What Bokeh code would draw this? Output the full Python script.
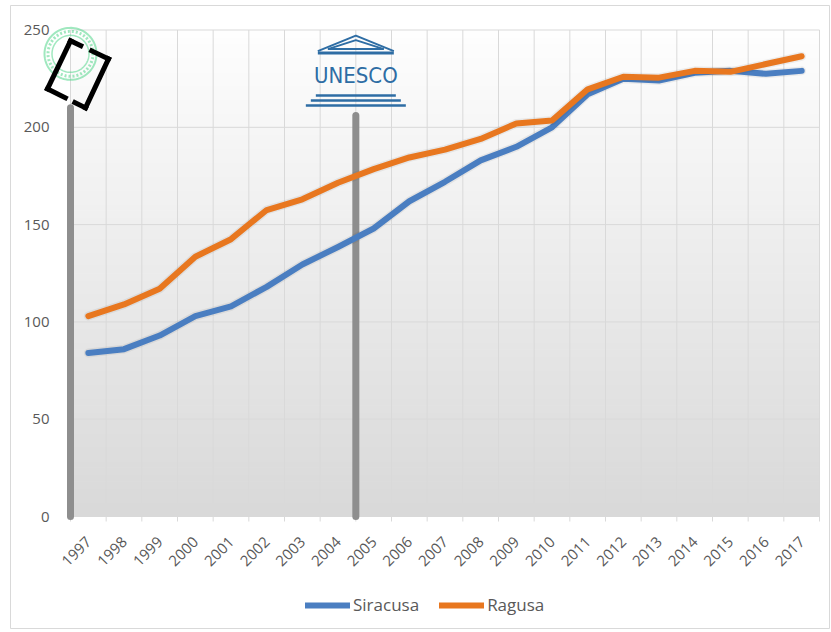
import numpy as np
from bokeh.plotting import figure
from bokeh.models import Legend, LegendItem, Range1d
from bokeh.core.properties import value
from bokeh.embed import file_html
from bokeh.resources import INLINE

# ---------------- data ----------------
years = list(range(1997, 2018))
siracusa = [84, 86, 93, 103, 108, 118, 129.5, 138.5, 148, 162, 172, 183, 190, 200,
            217, 225, 224, 228, 229, 227.5, 229]
ragusa = [103, 109, 117, 133.5, 142.5, 157.5, 163, 171.5, 178.5, 184.5, 188.5, 194, 202, 203.5,
          219.5, 226, 225.5, 229, 228.5, 232.5, 236.5]
series_names = ["Siracusa", "Ragusa"]
y_ticks = [0, 50, 100, 150, 200, 250]
year_labels = [str(y) for y in years]
y_labels = [str(v) for v in y_ticks]
event_x = [1996.5, 2004.5]     # marker bars: start of series / UNESCO listing
event_top = [210, 206]
logo_text = "UNESCO"

# ---------------- style ----------------
FONT = "Open Sans"
TXT = "#595959"
GRID = "#d9d9d9"
BLUE = "#4A7EC1"
ORANGE = "#E8771F"
BAR = "#8E8E8E"
LOGO = "#2E6DA4"
STAMP = "#52D68A"

W, H = 831, 632
# pixel geometry of the plot area inside the picture
PA_LEFT, PA_RIGHT, PA_TOP, PA_BOTTOM = 70, 819, 29.5, 516
XPX = (PA_RIGHT - PA_LEFT) / len(years)
YPX = (PA_BOTTOM - PA_TOP) / (y_ticks[-1] - y_ticks[0])
x0 = years[0] - 0.5
x_start = x0 - PA_LEFT / XPX
x_end = x0 + (W - PA_LEFT) / XPX
y_start = y_ticks[0] - (H - PA_BOTTOM) / YPX
y_end = y_ticks[-1] + PA_TOP / YPX

def ox(px):
    return px / XPX
def oy(px):
    return px / YPX
def X(px):
    return x_start + px / XPX
def Y(py):
    return y_end - py / YPX

p = figure(width=W, height=H, output_backend="svg", toolbar_location=None,
           x_range=Range1d(x_start, x_end), y_range=Range1d(y_start, y_end),
           x_axis_type=None, y_axis_type=None, min_border=0)
p.outline_line_color = None
p.background_fill_color = "white"
p.border_fill_color = "white"
p.grid.visible = False

xl, xr = years[0] - 0.5, years[-1] + 0.5
bounds = [y - 0.5 for y in years] + [xr]

# chart border
p.quad(left=X(10), right=X(829), top=Y(5), bottom=Y(628), fill_color=None,
       line_color=GRID, line_width=1)

# plot-area gradient (white top -> light grey bottom)
n = 70
edges = np.linspace(y_ticks[0], y_ticks[-1], n + 1)
shades = np.linspace(217, 254, n)
cols = ["#%02x%02x%02x" % (int(s), int(s), int(s)) for s in shades]
p.quad(left=xl, right=xr, bottom=edges[:-1], top=edges[1:],
       fill_color=cols, line_color=cols, line_width=1)

# grid lines
p.segment(x0=bounds, y0=[y_ticks[0]] * len(bounds), x1=bounds, y1=[y_ticks[-1]] * len(bounds),
          line_color=GRID, line_width=1)
p.segment(x0=[xl] * len(y_ticks), y0=y_ticks, x1=[xr] * len(y_ticks), y1=y_ticks,
          line_color=GRID, line_width=1)
# tick marks below the category axis
p.segment(x0=bounds, y0=[y_ticks[0]] * len(bounds), x1=bounds,
          y1=[y_ticks[0] - oy(5)] * len(bounds), line_color=GRID, line_width=1)

# tick labels
p.text(x=[xl - ox(21)] * len(y_ticks), y=y_ticks, text=y_labels,
       text_font=value(FONT), text_font_size="15px", text_color=TXT,
       text_align="right", text_baseline="middle")
p.text(x=[yv + ox(0.5) for yv in years], y=[y_ticks[0] - oy(23)] * len(years), text=year_labels,
       angle=np.pi / 4, text_font=value(FONT), text_font_size="15px", text_color=TXT,
       text_align="right", text_baseline="middle")

# marker bars (below the lines)
p.segment(x0=event_x, y0=[y_ticks[0]] * len(event_x), x1=event_x, y1=event_top,
          line_color=BAR, line_width=7, line_cap="round")

# series lines with a faint shadow
renderers = []
for vals, col in ((siracusa, BLUE), (ragusa, ORANGE)):
    p.line(years, vals, line_color="black", line_alpha=0.06, line_width=9,
           line_join="round", line_cap="round")
    r = p.line(years, vals, line_color=col, line_width=6, line_join="round", line_cap="round")
    renderers.append(r)

legend = Legend(items=[LegendItem(label=n_, renderers=[r]) for n_, r in zip(series_names, renderers)],
                orientation="horizontal", location=(305, 16), glyph_width=45, glyph_height=16,
                label_standoff=3, spacing=20, padding=0, margin=0,
                border_line_color=None, background_fill_alpha=0,
                label_text_font=FONT, label_text_font_size="17px", label_text_color=TXT)
p.add_layout(legend)

# ---- UNESCO logo above the second marker ----
ax_, ay_ = event_x[1], event_top[1]
def pt(dx, dy):
    return ax_ + ox(dx), ay_ + oy(dy)
outer = [pt(-38, 64.5), pt(0, 80), pt(38, 64.5)]
inner = [pt(-28, 66.5), pt(0, 75.5), pt(28, 66.5), pt(-28, 66.5)]
p.multi_line(xs=[[q[0] for q in outer], [q[0] for q in inner]],
             ys=[[q[1] for q in outer], [q[1] for q in inner]],
             line_color=LOGO, line_width=2)
steps = [(38, 62.5, 3), (40, 20, 2.5), (45, 15, 2.5), (50, 10, 2.5)]
for half, dy, lw in steps:
    a, b = pt(-half, dy), pt(half, dy)
    p.line([a[0], b[0]], [a[1], b[1]], line_color=LOGO, line_width=lw)
tx, ty = pt(0, 40)
p.text(x=[tx], y=[ty], text=[logo_text], text_font=value("DejaVu Sans Condensed"),
       text_font_size="22px", text_align="center", text_baseline="middle", text_color=LOGO)

# ---- stamp logo above the first marker ----
bx, by = event_x[0], event_top[0]
t = np.linspace(0, 2 * np.pi, 90)
for rad, lw, dash in ((26, 2, "solid"), (22.5, 3, "2 2"), (18.5, 1.5, "solid")):
    p.line(list(bx + ox(rad * np.cos(t))), list(by + oy(54 + rad * np.sin(t))),
           line_color=STAMP, line_alpha=0.55, line_width=lw, line_dash=dash)
TL, TR, BR, BL = (0, 67), (38, 49), (15, 0), (-23, 19)
def lerp(P, Q, f):
    return (P[0] + f * (Q[0] - P[0]), P[1] + f * (Q[1] - P[1]))
segs = [(TL, lerp(TL, TR, 0.27)), (lerp(TL, TR, 0.56), TR), (TR, BR),
        (BR, lerp(BR, BL, 0.28)), (lerp(BR, BL, 0.53), BL), (BL, TL)]
p.segment(x0=[bx + ox(P[0]) for P, Q in segs], y0=[by + oy(P[1]) for P, Q in segs],
          x1=[bx + ox(Q[0]) for P, Q in segs], y1=[by + oy(Q[1]) for P, Q in segs],
          line_color="black", line_width=5, line_cap="square")

open("out.html", "w").write(file_html(p, INLINE))
